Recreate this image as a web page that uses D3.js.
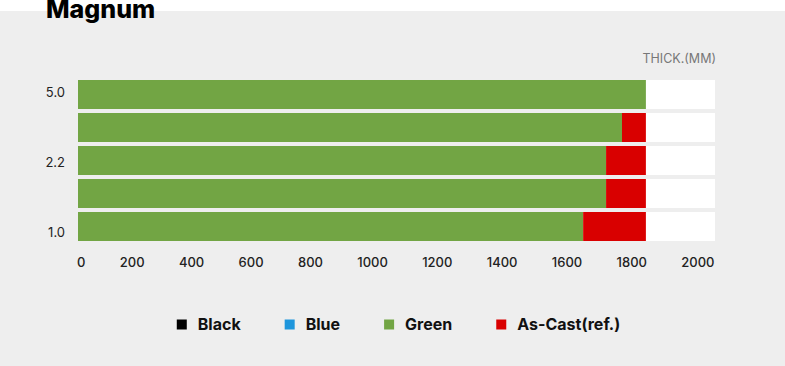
<!DOCTYPE html>
<html>
<head>
<meta charset="utf-8">
<script src="https://cdn.jsdelivr.net/npm/d3@7"></script>
<style>
  body { margin: 0; background: #fff; }
  svg { display: block; font-family: Inter, "Open Sans", sans-serif; }
</style>
</head>
<body>
<svg id="chart" width="785" height="366"></svg>
<script>
// donnees du graphique
const rowLabels = ["5.0", "", "2.2", "", "1.0"];
const seriesNames = ["Black", "Blue", "Green", "As-Cast(ref.)"];
const seriesColors = ["#000000", "#1e96dc", "#72a544", "#d90000"];
const black = [0, 0, 0, 0, 0];
const blue = [0, 0, 0, 0, 0];
const green = [1783, 1708, 1658, 1658, 1586];
const asCast = [0, 75, 125, 125, 197];
const xTicks = [0, 200, 400, 600, 800, 1000, 1200, 1400, 1600, 1800, 2000];

const svg = d3.select("#chart");

// fond gris + titre
svg.append("rect").attr("x", 0).attr("y", 11).attr("width", 785).attr("height", 355).attr("fill", "#eeeeee");
svg.append("text").attr("x", 46).attr("y", 18).text("Magnum")
    .attr("font-size", "25px").attr("font-weight", 800).attr("fill", "#000");

svg.append("text").attr("x", 716).attr("y", 63).attr("text-anchor", "end")
    .text("THICK.(MM)").attr("font-size", "12.5px").attr("fill", "#777");

// table pour d3.stack
const table = rowLabels.map((d, i) => ({
    idx: i, "Black": black[i], "Blue": blue[i], "Green": green[i], "As-Cast(ref.)": asCast[i]
}));

const x = d3.scaleLinear().domain([0, 2000]).range([78, 715]);
const y = d3.scaleBand().domain(d3.range(rowLabels.length)).range([78, 243])
    .paddingInner(4 / 33).paddingOuter(2 / 33);

// pistes blanches
svg.append("g").selectAll("rect").data(table).join("rect")
    .attr("x", x(0)).attr("y", d => y(d.idx))
    .attr("width", x(2000) - x(0)).attr("height", y.bandwidth())
    .attr("fill", "#fff");

const stacked = d3.stack().keys(seriesNames)(table);
svg.append("g").selectAll("g").data(stacked).join("g")
    .attr("fill", (d, i) => seriesColors[i])
    .selectAll("rect").data(d => d).join("rect")
    .attr("x", d => x(d[0])).attr("y", d => y(d.data.idx))
    .attr("width", d => x(d[1]) - x(d[0])).attr("height", y.bandwidth());

// libelles Y
const yLab = d3.scalePoint().domain(d3.range(rowLabels.length)).range([92, 232]);
svg.append("g").selectAll("text").data(rowLabels).join("text")
    .attr("x", 65).attr("y", (d, i) => yLab(i)).attr("dy", "0.35em")
    .attr("text-anchor", "end").attr("font-size", "13px").attr("fill", "#222")
    .text(d => d);

// axe X (libelles repartis comme un space-between)
const axisG = svg.append("g").attr("transform", "translate(0,255)")
    .call(d3.axisBottom(x).tickValues(xTicks).tickSize(0).tickFormat(d3.format("d")));
axisG.select(".domain").remove();
const tickTexts = axisG.selectAll("text")
    .attr("font-family", "Inter, sans-serif").attr("font-size", "13px")
    .attr("font-weight", 500).attr("fill", "#222").attr("dy", "0.71em");
const widths = tickTexts.nodes().map(n => n.getComputedTextLength());
const left = 77, right = 714.5;
const gap = (right - left - d3.sum(widths)) / (widths.length - 1);
let cursor = left;
axisG.selectAll(".tick").each(function (d, i) {
    d3.select(this).attr("transform", `translate(${cursor},0)`)
        .select("text").attr("text-anchor", "start").attr("x", 0);
    cursor += widths[i] + gap;
});

// legende
const legend = svg.append("g");
const items = legend.selectAll("g").data(seriesNames).join("g");
items.append("rect").attr("width", 10).attr("height", 10).attr("y", -10)
    .attr("fill", (d, i) => seriesColors[i]);
items.append("text").attr("x", 21).attr("y", 0).text(d => d)
    .attr("font-size", "16px").attr("font-weight", 700).attr("fill", "#111");
let lx = 0;
items.each(function () {
    const w = this.querySelector("text").getComputedTextLength();
    d3.select(this).attr("transform", `translate(${lx},0)`);
    lx += 21 + w + 44;
});
const legendWidth = lx - 44;
legend.attr("transform", `translate(${398.5 - legendWidth / 2},329.5)`);
</script>
</body>
</html>
